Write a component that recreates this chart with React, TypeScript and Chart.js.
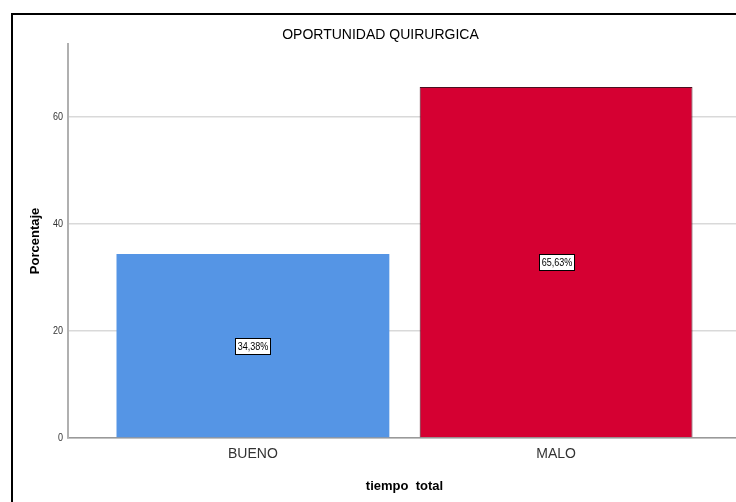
import { useEffect, useRef } from "react";
import { Chart, registerables } from "chart.js";

Chart.register(...registerables);

const chartTitle = "OPORTUNIDAD QUIRURGICA";
const categories = ["BUENO", "MALO"];
const percentages = [34.38, 65.63];
const yTicks = [0, 20, 40, 60];
const yAxisTitle = "Porcentaje";
const xAxisTitle = "tiempo  total";

const SANS = "'Liberation Sans', Arial, sans-serif";
const NARROW_SCALE = 0.82;

function narrowText(
  ctx: CanvasRenderingContext2D,
  text: string,
  x: number,
  y: number,
  align: CanvasTextAlign
) {
  ctx.save();
  ctx.translate(x, y);
  ctx.scale(NARROW_SCALE, 1);
  ctx.textAlign = align;
  ctx.fillText(text, 0, 0);
  ctx.restore();
}

export default function App() {
  const ref = useRef<HTMLCanvasElement>(null);

  useEffect(() => {
    const narrowLabels = {
      id: "narrowLabels",
      afterDraw(chart: any) {
        const ctx = chart.ctx as CanvasRenderingContext2D;
        const yScale = chart.scales.y;
        ctx.save();
        ctx.font = `11px ${SANS}`;
        ctx.fillStyle = "#333333";
        ctx.textBaseline = "middle";
        yTicks.forEach((v) => {
          narrowText(ctx, String(v), yScale.right - 5, yScale.getPixelForValue(v), "right");
        });
        ctx.restore();
      },
      afterDatasetsDraw(chart: any) {
        const ctx = chart.ctx as CanvasRenderingContext2D;
        const meta = chart.getDatasetMeta(0);
        ctx.save();
        ctx.font = `11px ${SANS}`;
        meta.data.forEach((bar: any, i: number) => {
          const text = percentages[i].toFixed(2).replace(".", ",") + "%";
          const cx = bar.x;
          const cy = (bar.y + bar.base) / 2;
          const w = Math.round(ctx.measureText(text).width * NARROW_SCALE + 4);
          const h = 16;
          const x0 = Math.round(cx - w / 2);
          const y0 = Math.round(cy - h / 2);
          ctx.fillStyle = "#ffffff";
          ctx.fillRect(x0, y0, w, h);
          ctx.strokeStyle = "#000000";
          ctx.lineWidth = 1;
          ctx.strokeRect(x0 + 0.5, y0 + 0.5, w, h);
          ctx.fillStyle = "#000000";
          ctx.textBaseline = "middle";
          narrowText(ctx, text, x0 + w / 2 + 0.5, y0 + h / 2 + 1, "center");
        });
        ctx.restore();
      },
    };

    const chart = new Chart(ref.current as HTMLCanvasElement, {
      type: "bar",
      data: {
        datasets: [
          {
            data: categories.map((_, i) => ({ x: i, y: percentages[i] })) as any,
            backgroundColor: ["#5595E5", "#D50032"],
            borderColor: ["#5595E5", "#4a1020"],
            borderWidth: [0, 1],
            barPercentage: 0.9,
            categoryPercentage: 1,
          },
        ],
      },
      options: {
        responsive: false,
        maintainAspectRatio: false,
        animation: false,
        layout: { padding: 0 },
        plugins: {
          legend: { display: false },
          tooltip: { enabled: false },
          title: {
            display: true,
            text: chartTitle,
            color: "#000",
            font: { family: SANS, size: 14, weight: "normal" },
            padding: { top: 27, bottom: 0 },
          },
        },
        scales: {
          x: {
            type: "linear",
            min: -0.61,
            max: 1.61,
            offset: false,
            afterBuildTicks: (s: any) => {
              s.ticks = categories.map((_, i) => ({ value: i }));
            },
            afterFit: (s: any) => {
              s.height = 64;
            },
            grid: { display: false, drawTicks: false },
            border: { color: "#999999", width: 1.5 },
            ticks: {
              padding: 8,
              color: "#333",
              autoSkip: false,
              maxRotation: 0,
              font: { family: SANS, size: 14 },
              callback: (v: any) => categories[v as number] ?? "",
            },
            title: {
              display: true,
              text: xAxisTitle,
              color: "#000",
              font: { family: SANS, size: 13, weight: "bold" },
              padding: { top: 0, bottom: 8 },
            },
          },
          y: {
            type: "linear",
            min: 0,
            max: 73.7,
            afterBuildTicks: (s: any) => {
              s.ticks = yTicks.map((v) => ({ value: v }));
            },
            afterFit: (s: any) => {
              s.width = 68;
            },
            grid: { color: "#d9d9d9", lineWidth: 1.5, drawTicks: false },
            border: { color: "#b0b0b0", width: 2 },
            ticks: { display: false },
            title: {
              display: true,
              text: yAxisTitle,
              color: "#000",
              font: { family: SANS, size: 13, weight: "bold" },
              padding: { top: 28, bottom: 0 },
            },
          },
          yRight: {
            type: "linear",
            position: "right",
            display: true,
            grid: { display: false, drawTicks: false },
            border: { display: false },
            ticks: { display: false },
            afterFit: (s: any) => {
              s.width = 20;
            },
          },
        },
      } as any,
      plugins: [narrowLabels],
    });
    return () => chart.destroy();
  }, []);

  return (
    <div
      style={{
        position: "fixed",
        left: 0,
        top: 0,
        width: 736,
        height: 502,
        overflow: "hidden",
        background: "#fff",
      }}
    >
      <div style={{ position: "absolute", left: 0, top: 0, width: 761, height: 502 }}>
        <canvas ref={ref} width={761} height={502} style={{ display: "block" }} />
      </div>
      <div
        style={{
          position: "absolute",
          left: 11,
          top: 13,
          width: 800,
          height: 600,
          border: "2px solid #000",
          pointerEvents: "none",
        }}
      />
    </div>
  );
}
